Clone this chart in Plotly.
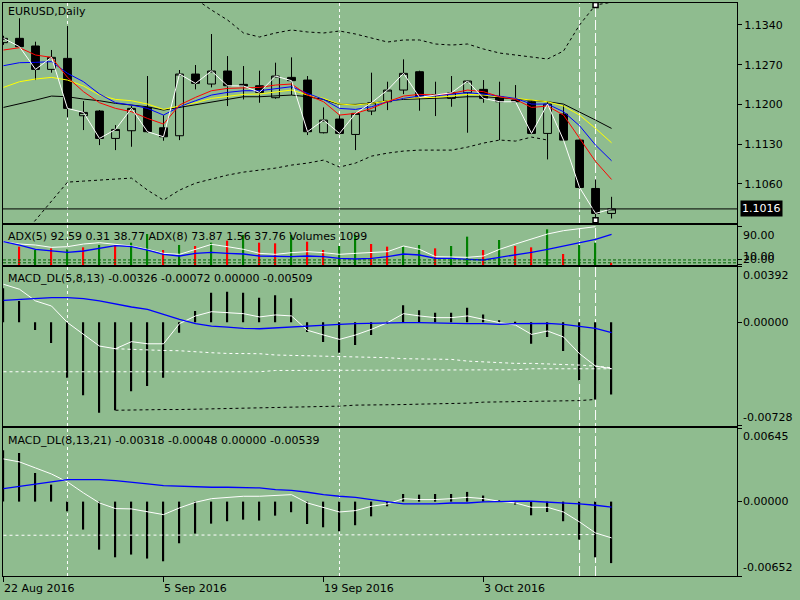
import pandas as pd
import plotly.graph_objects as go
from plotly.subplots import make_subplots

# trading days shown on the chart (22 Aug 2016 .. 13 Oct 2016)
dates = pd.bdate_range("2016-08-22", periods=39).strftime("%Y-%m-%d").tolist()

# EURUSD daily candles
opens = [1.13089, 1.13165, 1.13030, 1.12618, 1.12812, 1.11801, 1.11884, 1.11402, 1.11537, 1.11948,
         1.11590, 1.11449, 1.12536, 1.12360, 1.12589, 1.12354, 1.12330, 1.12119, 1.12477, 1.12430,
         1.11502, 1.11743, 1.11472, 1.11884, 1.12048, 1.12254, 1.12577, 1.12154, 1.12107, 1.12207,
         1.12266, 1.12136, 1.12078, 1.12048, 1.11490, 1.11831, 1.11372, 1.10520, 1.10080]
highs = [1.13210, 1.13518, 1.13106, 1.12960, 1.13382, 1.12060, 1.11901, 1.11637, 1.11972, 1.12501,
         1.11813, 1.12607, 1.12695, 1.13241, 1.12853, 1.12677, 1.12595, 1.12736, 1.12830, 1.12501,
         1.11948, 1.11813, 1.11854, 1.12560, 1.12401, 1.12795, 1.12595, 1.12401, 1.12501, 1.12430,
         1.12430, 1.12401, 1.12342, 1.12078, 1.12048, 1.11990, 1.11384, 1.10679, 1.10373]
lows = [1.13050, 1.13010, 1.12430, 1.12560, 1.11772, 1.11549, 1.11284, 1.11196, 1.11255, 1.11502,
        1.11361, 1.11372, 1.12266, 1.12301, 1.11972, 1.12089, 1.12030, 1.12101, 1.12166, 1.11461,
        1.11490, 1.11478, 1.11196, 1.11813, 1.11901, 1.12183, 1.11890, 1.11796, 1.11960, 1.11502,
        1.12030, 1.11372, 1.12030, 1.11478, 1.11032, 1.11361, 1.10520, 1.09950, 1.09991]
closes = [1.13165, 1.13018, 1.12618, 1.12830, 1.11931, 1.11860, 1.11402, 1.11560, 1.11931, 1.11520,
          1.11431, 1.12536, 1.12372, 1.12589, 1.12330, 1.12325, 1.12213, 1.12501, 1.12419, 1.11520,
          1.11725, 1.11490, 1.11843, 1.12031, 1.12254, 1.12548, 1.12125, 1.12166, 1.12207, 1.12413,
          1.12107, 1.12048, 1.12048, 1.11490, 1.12007, 1.11372, 1.10538, 1.10080, 1.10160]
last_price = 1.1016

# moving averages
ma_red = [1.12959, 1.13000, 1.12871, 1.12830, 1.12477, 1.12225, 1.12031, 1.11931, 1.11872, 1.11754,
          1.11655, 1.11990, 1.12125, 1.12242, 1.12283, 1.12295, 1.12301, 1.12342, 1.12360, 1.12166,
          1.12048, 1.11813, 1.11843, 1.11931, 1.12048, 1.12148, 1.12178, 1.12166, 1.12195, 1.12254,
          1.12225, 1.12136, 1.12089, 1.11948, 1.11972, 1.11813, 1.11403, 1.10996, 1.10679]
ma_blue = [1.12683, 1.12736, 1.12742, 1.12754, 1.12548, 1.12401, 1.12184, 1.12031, 1.11990, 1.11931,
           1.11813, 1.11960, 1.12066, 1.12166, 1.12213, 1.12242, 1.12242, 1.12283, 1.12313, 1.12195,
           1.12089, 1.11931, 1.11913, 1.11960, 1.12048, 1.12107, 1.12148, 1.12154, 1.12178, 1.12207,
           1.12184, 1.12148, 1.12107, 1.12007, 1.12007, 1.11872, 1.11625, 1.11284, 1.11008]
ma_yellow = [1.12301, 1.12401, 1.12448, 1.12477, 1.12430, 1.12325, 1.12166, 1.12089, 1.12066, 1.12007,
             1.11913, 1.11972, 1.12031, 1.12107, 1.12148, 1.12178, 1.12184, 1.12225, 1.12254, 1.12166,
             1.12107, 1.12007, 1.11990, 1.12019, 1.12066, 1.12107, 1.12119, 1.12125, 1.12148, 1.12178,
             1.12166, 1.12136, 1.12107, 1.12066, 1.12048, 1.11972, 1.11813, 1.11578, 1.11325]
ma_black = [1.11948, 1.12007, 1.12077, 1.12148, 1.12136, 1.12095, 1.12066, 1.12019, 1.11990, 1.11960,
            1.11901, 1.11948, 1.12007, 1.12048, 1.12095, 1.12136, 1.12136, 1.12148, 1.12166, 1.12136,
            1.12089, 1.12001, 1.12001, 1.12019, 1.12066, 1.12089, 1.12095, 1.12107, 1.12119, 1.12136,
            1.12136, 1.12119, 1.12095, 1.12066, 1.12048, 1.12007, 1.11872, 1.11725, 1.11578]

# dotted envelope
band_upper = [1.1420, 1.1425, 1.1428, 1.1430, 1.1432, 1.1430, 1.1428, 1.1425, 1.1420, 1.1412,
              1.1405, 1.1396, 1.13858, 1.13664, 1.13488, 1.13259, 1.13188, 1.13259, 1.13312, 1.13277,
              1.13259, 1.13294, 1.13241, 1.13171, 1.13100, 1.13136, 1.13136, 1.13065, 1.13047, 1.13065,
              1.12977, 1.12906, 1.12871, 1.12836, 1.12801, 1.12942, 1.13400, 1.13753, 1.13800]
band_lower = [1.09292, 1.09627, 1.09962, 1.10315, 1.10632, 1.10650, 1.10667, 1.10685, 1.10703, 1.10491,
              1.10315, 1.10491, 1.10614, 1.10685, 1.10756, 1.10808, 1.10844, 1.10879, 1.10932, 1.10967,
              1.11020, 1.10897, 1.10967, 1.11090, 1.11143, 1.11179, 1.11196, 1.11196, 1.11196, 1.11249,
              1.11320, 1.11373, 1.11355, 1.11425, 1.11373, None, None, None, None]
mark_date = "2016-10-12"
mark_prices = [1.13753, 1.09962]
price_ticks = [1.1060, 1.1130, 1.1200, 1.1270, 1.1340]

# ADX(5), ADX(8) and volumes sub-window
adx5 = [58.4, 53.5, 51.4, 46.5, 47.9, 53.5, 56.3, 53.5, 49.3, 42.3, 33.9, 31.8, 42.3, 52.8, 47.9,
        42.3, 33.9, 31.8, 35.3, 37.4, 35.3, 31.8, 33.9, 35.3, 37.4, 49.3, 42.3, 26.9, 25.5, 25.5,
        28.3, 42.3, 53.5, 63.4, 74.6, 81.6, 86.5, 90.0, None]
adx8 = [58.4, 51.4, 42.3, 39.5, 36.0, 38.8, 44.4, 50.0, 47.9, 40.9, 31.8, 28.3, 33.9, 36.0, 33.9,
        32.5, 28.3, 26.9, 26.9, 28.3, 26.9, 23.4, 22.0, 23.4, 26.9, 32.5, 30.4, 23.4, 23.4, 21.3,
        19.9, 25.5, 30.4, 36.0, 42.3, 49.3, 54.9, 63.4, 73.87]
adx_levels = [20, 14]
volumes = [None, 8640, 7070, 7850, 7380, 8320, 9420, 9420, 10520, 14600, 7070, 9420, 8950, 10520,
           11460, 14130, 10520, 10210, 14130, 10990, 7070, 8950, 14130, 9890, 8640, 8640, 9420, 7850,
           8950, 13350, 7070, 11780, 8950, 8320, 16800, 5180, 9420, 10520, 1099]
vol_up = [True, False, True, False, True, False, True, False, True, True, False, True, False, True,
          False, True, False, False, True, False, False, True, True, False, False, True, True, False,
          True, True, False, True, False, False, True, False, True, True, False]

# MACD_DL(5,8,13)
m1_hist = [0.0024, 0.00151, -0.00054, -0.00146, -0.0039, -0.00513, -0.00637, -0.00619, -0.00485,
           -0.00449, -0.0039, -0.00073, 0.0008, 0.00209, 0.00216, 0.00209, 0.00174, 0.00191, 0.00169,
           -0.00068, -0.00139, -0.00214, -0.0016, -0.00089, -0.0001, 0.0012, 0.00085, 0.00068, 0.00068,
           0.00103, 0.00056, 0.00014, -0.0001, -0.00151, -0.00104, -0.00202, -0.00407, -0.00543, -0.00509]
m1_white = [0.00268, 0.00233, 0.00151, 0.00115, -0.00002, -0.00085, -0.00167, -0.00186, -0.00136,
            -0.00151, -0.00151, -0.00009, 0.00045, 0.00075, 0.00068, 0.00061, 0.00038, 0.00052, 0.00045,
            -0.00056, -0.00089, -0.0012, -0.00089, -0.00049, -0.00002, 0.00061, 0.00045, 0.00033, 0.00033,
            0.00045, 0.00021, -0.00002, -0.00019, -0.00085, -0.00061, -0.00103, -0.00221, -0.00308, -0.00326]
m1_blue = [0.00155, 0.00162, 0.00169, 0.00174, 0.00174, 0.00167, 0.00151, 0.00127, 0.00108, 0.00092,
           0.00056, 0.00021, -0.00009, -0.00026, -0.00033, -0.00042, -0.00045, -0.00038, -0.00031,
           -0.00024, -0.00019, -0.00014, -0.00009, -0.00005, -0.00002, -0.00002, -0.00002, -0.00005,
           -0.00009, -0.00009, -0.00009, -0.00014, -0.00009, -0.00009, -0.00007, -0.00014, -0.00026,
           -0.00042, -0.00072]
m1_low_white = [None] * 7 + [-0.00186, -0.00191, -0.00195, -0.00198, -0.002, -0.00209, -0.00214,
                             -0.00219, -0.00221, -0.00221, -0.0023, -0.00233, -0.00233, -0.00238,
                             -0.00238, -0.00245, -0.00245, -0.00249, -0.00256, -0.00259, -0.00261,
                             -0.00261, -0.00273, -0.0028, -0.00287, -0.00289, -0.00289, -0.00292,
                             -0.00296, -0.00301, -0.00308, -0.0032]
m1_base_white = [-0.00348] * 17 + [-0.00339] * 3 + [-0.00334] * 13 + [-0.00327] * 6
m1_low_black = [None] * 7 + [-0.00619, -0.00616, -0.00616, -0.00614, -0.00614, -0.00612, -0.0061,
                             -0.00609, -0.00607, -0.00605, -0.00602, -0.006, -0.00595, -0.00593,
                             -0.0059, -0.00583, -0.00583, -0.00581, -0.00579, -0.00576, -0.00574,
                             -0.00572, -0.00569, -0.00562, -0.0056, -0.0056, -0.00558, -0.00553,
                             -0.00553, -0.00551, -0.00543, None]

# MACD_DL(8,13,21)
m2_hist = [0.0045, 0.00426, 0.00251, 0.00149, -0.00085, -0.00245, -0.00421, -0.00488, -0.00464,
           -0.00499, -0.00523, -0.00365, -0.0028, -0.00193, -0.00172, -0.00158, -0.00166, -0.00123,
           -0.00093, -0.00196, -0.00225, -0.0026, -0.00207, -0.00129, -0.00041, 0.00067, 0.00061,
           0.00067, 0.00067, 0.00085, 0.00053, 0.00009, -0.00026, -0.0012, -0.00091, -0.00172,
           -0.00333, -0.00488, -0.00539]
m2_white = [0.00374, 0.00348, 0.00295, 0.00242, 0.00172, 0.00076, -0.00012, -0.00061, -0.00064,
            -0.00091, -0.00114, -0.00055, -0.00006, 0.00026, 0.00038, 0.00047, 0.00047, 0.00053, 0.00061,
            -0.00012, -0.0005, -0.00091, -0.00079, -0.00041, -0.0002, 0.00026, 0.00018, 0.00018, 0.00026,
            0.00038, 0.00026, 0.00003, -0.00012, -0.0005, -0.0005, -0.00091, -0.00178, -0.00275, -0.00318]
m2_blue = [0.00114, 0.00134, 0.00155, 0.00172, 0.00193, 0.00193, 0.00193, 0.00184, 0.00172, 0.00155,
           0.0014, 0.00134, 0.00134, 0.00126, 0.00126, 0.0012, 0.0012, 0.00105, 0.00099, 0.00082,
           0.00061, 0.00047, 0.00038, 0.00018, -0.00003, -0.0002, -0.0002, -0.0002, -0.00012, -0.00012,
           -0.00003, 0.00003, 0.00003, 0.00003, -0.00003, -0.00012, -0.0002, -0.00032, -0.00048]
m2_base_white = [-0.00295] * 18 + [-0.00289] * 20 + [None]

# vertical marker lines and bottom date labels
vlines_short = ["2016-08-26", "2016-09-20"]
vlines_long = ["2016-10-11", "2016-10-12"]
tick_dates = ["2016-08-22", "2016-09-05", "2016-09-19", "2016-10-03"]
tick_labels = ["22 Aug 2016", "5 Sep 2016", "19 Sep 2016", "3 Oct 2016"]

BG = "#8FBC8F"
FONT = dict(family="DejaVu Sans", size=11, color="black")

fig = make_subplots(rows=4, cols=1, shared_xaxes=True, vertical_spacing=0.0)

# --- main price window
fig.add_trace(go.Candlestick(
    x=dates, open=opens, high=highs, low=lows, close=closes,
    increasing=dict(line=dict(color="black", width=1), fillcolor=BG),
    decreasing=dict(line=dict(color="black", width=1), fillcolor="black"),
    whiskerwidth=0, hoverinfo="skip"), row=1, col=1)
for band in (band_upper, band_lower):
    fig.add_trace(go.Scatter(x=dates, y=band, mode="lines",
                             line=dict(color="black", width=1, dash="3px,3px")), row=1, col=1)
for ma, color in ((ma_black, "black"), (ma_yellow, "#FFFF00"), (ma_blue, "#0000FF"), (ma_red, "#FF0000")):
    fig.add_trace(go.Scatter(x=dates, y=ma, mode="lines", line=dict(color=color, width=1)), row=1, col=1)
fig.add_trace(go.Scatter(x=dates, y=closes, mode="lines", line=dict(color="white", width=1)), row=1, col=1)
fig.add_trace(go.Scatter(x=[mark_date] * 2, y=mark_prices, mode="markers",
                         marker=dict(symbol="square", size=5, color="white",
                                     line=dict(color="black", width=1.5))), row=1, col=1)

# --- ADX / volumes window
fig.add_trace(go.Bar(x=dates, y=volumes, width=0.08,
                     marker=dict(color=["#008000" if u else "#FF0000" for u in vol_up], line=dict(width=0))),
              row=2, col=1)
fig.add_trace(go.Scatter(x=dates, y=adx5, mode="lines", line=dict(color="white", width=1),
                         xaxis="x2", yaxis="y5"))
fig.add_trace(go.Scatter(x=dates, y=adx8, mode="lines", line=dict(color="#0000FF", width=1.3),
                         xaxis="x2", yaxis="y5"))

# --- MACD windows
fig.add_trace(go.Bar(x=dates, y=m1_hist, width=0.08, marker=dict(color="black", line=dict(width=0))),
              row=3, col=1)
for y, color in ((m1_low_white, "white"), (m1_base_white, "white"), (m1_low_black, "black")):
    fig.add_trace(go.Scatter(x=dates, y=y, mode="lines", line=dict(color=color, width=1, dash="3px,3px")),
                  row=3, col=1)
fig.add_trace(go.Scatter(x=dates, y=m1_white, mode="lines", line=dict(color="white", width=1)), row=3, col=1)
fig.add_trace(go.Scatter(x=dates, y=m1_blue, mode="lines", line=dict(color="#0000FF", width=1.3)), row=3, col=1)

fig.add_trace(go.Bar(x=dates, y=m2_hist, width=0.08, marker=dict(color="black", line=dict(width=0))),
              row=4, col=1)
fig.add_trace(go.Scatter(x=dates, y=m2_base_white, mode="lines",
                         line=dict(color="white", width=1, dash="3px,3px")), row=4, col=1)
fig.add_trace(go.Scatter(x=dates, y=m2_white, mode="lines", line=dict(color="white", width=1)), row=4, col=1)
fig.add_trace(go.Scatter(x=dates, y=m2_blue, mode="lines", line=dict(color="#0000FF", width=1.3)), row=4, col=1)

# --- axes
xcommon = dict(type="category", range=[-0.031, 45.84], showgrid=False, zeroline=False,
               showline=True, linecolor="black", linewidth=1, mirror=True,
               showticklabels=False, ticks="", rangeslider=dict(visible=False))
ycommon = dict(showgrid=False, zeroline=False, showline=True, linecolor="black", linewidth=1,
               mirror=True, side="right", ticks="outside", ticklen=4, tickcolor="black",
               showticklabels=False)

fig.update_layout(
    xaxis=xcommon, xaxis2=xcommon, xaxis3=xcommon,
    xaxis4=dict(xcommon, ticks="outside", ticklen=5, tickcolor="black",
                tickmode="array", tickvals=tick_dates),
    yaxis=dict(ycommon, domain=[0.615, 0.9988], range=[1.09912, 1.13793], tickmode="array",
               tickvals=price_ticks, tickformat=".4f", showticklabels=True, tickfont=FONT),
    yaxis2=dict(ycommon, domain=[0.5418, 0.6115], range=[0, 18840], ticks=""),
    yaxis5=dict(ycommon, overlaying="y2", anchor="x2", range=[9.35, 93.5], showline=False,
                tickmode="array", tickvals=[90, 20, 10]),
    yaxis3=dict(ycommon, domain=[0.2618, 0.5389], range=[-0.00728, 0.00392],
                tickmode="array", tickvals=[0.00392, 0, -0.00728]),
    yaxis4=dict(ycommon, domain=[0.0, 0.2578], range=[-0.00652, 0.00645],
                tickmode="array", tickvals=[0.00645, 0, -0.00652]),
)

shapes = [dict(type="line", xref="x domain", x0=0, x1=1, yref="y", y0=last_price, y1=last_price,
               line=dict(color="black", width=1))]
for lvl in adx_levels:
    shapes.append(dict(type="line", xref="x2 domain", x0=0, x1=1, yref="y5", y0=lvl, y1=lvl,
                       line=dict(color="#006400", width=1, dash="3px,2px")))
for d in vlines_short:
    shapes.append(dict(type="line", xref="x", x0=d, x1=d, yref="paper", y0=0, y1=0.9988, layer="below",
                       line=dict(color="white", width=1, dash="3px,3px")))
for d in vlines_long:
    shapes.append(dict(type="line", xref="x", x0=d, x1=d, yref="paper", y0=0, y1=0.9988, layer="below",
                       line=dict(color="white", width=1, dash="10px,3px")))

ann = []
headers = [("EURUSD,Daily", 0.9826),
           ("ADX(5) 92.59 0.31 38.77 ADX(8) 73.87 1.56 37.76 Volumes 1099", 0.5923),
           ("MACD_DL(5,8,13) -0.00326 -0.00072 0.00000 -0.00509", 0.5186),
           ("MACD_DL(8,13,21) -0.00318 -0.00048 0.00000 -0.00539", 0.2369)]
for text, y in headers:
    ann.append(dict(text=text, xref="paper", x=0, xanchor="left", xshift=3, yref="paper", y=y,
                    yanchor="middle", showarrow=False, font=FONT))
side_labels = [("y5", 90, "90.00", "top"), ("y5", 20, "20.00", "middle"), ("y5", 10, "10.00", "bottom"),
               ("y3", 0.00392, "0.00392", "top"), ("y3", 0, "0.00000", "middle"),
               ("y3", -0.00728, "-0.00728", "bottom"),
               ("y4", 0.00645, "0.00645", "top"), ("y4", 0, "0.00000", "middle"),
               ("y4", -0.00652, "-0.00652", "bottom")]
for yref, y, text, anchor in side_labels:
    ann.append(dict(text=text, xref="paper", x=1, xanchor="left", xshift=4, yref=yref, y=y,
                    yanchor=anchor, showarrow=False, font=FONT))
ann.append(dict(text="%.4f" % last_price, xref="paper", x=1, xanchor="left", xshift=3, yref="y",
                y=last_price, yanchor="middle", showarrow=False, bgcolor="black", borderpad=1,
                font=dict(FONT, color="white")))
for d, text in zip(tick_dates, tick_labels):
    ann.append(dict(text=text, xref="x4", x=d, xanchor="left", xshift=-2, yref="paper", y=0,
                    yanchor="top", yshift=-4, showarrow=False, font=FONT))

fig.update_layout(
    width=800, height=600,
    margin=dict(l=3, r=63, t=2, b=24),
    paper_bgcolor=BG, plot_bgcolor=BG,
    showlegend=False, barmode="overlay",
    shapes=shapes, annotations=ann,
    font=FONT,
)

fig.write_html("out.html", config={"displayModeBar": False},
               post_script="document.body.style.margin='0';")
